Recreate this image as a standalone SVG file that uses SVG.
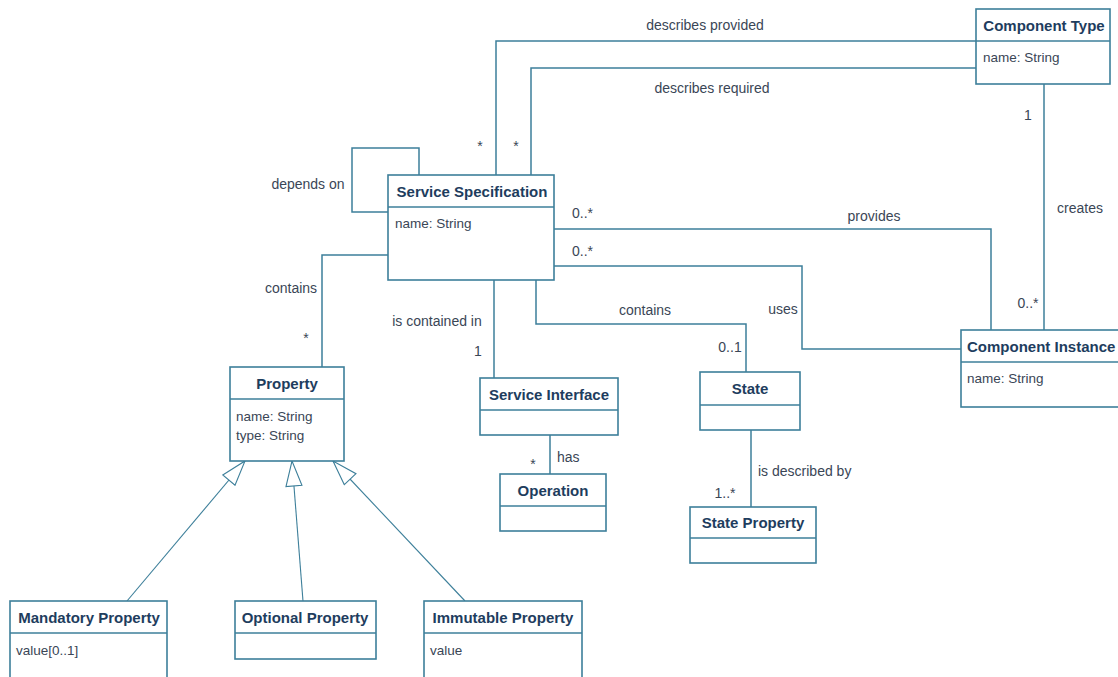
<svg xmlns="http://www.w3.org/2000/svg" width="1118" height="677" viewBox="0 0 1118 677">
<defs>
<style>
.box{fill:#fff;stroke:#3d7f9a;stroke-width:1.6}
.div{stroke:#3d7f9a;stroke-width:1.4}
.ln{fill:none;stroke:#3d7f9a;stroke-width:1.5}
.gen{fill:none;stroke:#3d7f9a;stroke-width:1.1}
.h{font-family:"Liberation Sans",Arial,sans-serif;font-size:15px;font-weight:bold;fill:#1e3d5e;text-anchor:middle}
.a{font-family:"Liberation Sans",Arial,sans-serif;font-size:13.5px;fill:#3a4656}
.l{font-family:"Liberation Sans",Arial,sans-serif;font-size:14px;fill:#3a4656}
.c{text-anchor:middle}
</style>
<marker id="tri" viewBox="0 0 26 18" refX="26" refY="9" markerWidth="26" markerHeight="18" markerUnits="userSpaceOnUse" orient="auto">
<path d="M1,1 L26,9 L1,17 Z" fill="#fff" stroke="#3d7f9a" stroke-width="1.1"/>
</marker>
</defs>
<rect width="1118" height="677" fill="#fff"/>

<g id="connectors">
<path class="ln" d="M496,175 V41 H976"/>
<path class="ln" d="M531,175 V68 H976"/>
<path class="ln" d="M419,175 V148 H352 V212 H388"/>
<path class="ln" d="M388,255 H322 V367"/>
<path class="ln" d="M554,229 H991 V330"/>
<path class="ln" d="M554,266 H802 V349 H961"/>
<path class="ln" d="M494,280 V378"/>
<path class="ln" d="M536,280 V324 H746 V372"/>
<path class="ln" d="M1044,84 V330"/>
<path class="ln" d="M550,435 V474"/>
<path class="ln" d="M751,430 V507"/>
<path class="gen" d="M127,601 L245,461" marker-end="url(#tri)"/>
<path class="gen" d="M303,601 L292,461" marker-end="url(#tri)"/>
<path class="gen" d="M465,601 L333,461" marker-end="url(#tri)"/>

<text class="l c" x="705" y="30">describes provided</text>
<text class="l c" x="712" y="93">describes required</text>
<text class="l c" x="480" y="151">*</text>
<text class="l c" x="516" y="151">*</text>
<text class="l c" x="308" y="189">depends on</text>
<text class="l" x="572" y="218">0..*</text>
<text class="l" x="572" y="256">0..*</text>
<text class="l c" x="874" y="221">provides</text>
<text class="l c" x="291" y="293">contains</text>
<text class="l c" x="306" y="343">*</text>
<text class="l c" x="437" y="326">is contained in</text>
<text class="l c" x="478" y="356">1</text>
<text class="l c" x="645" y="315">contains</text>
<text class="l c" x="783" y="314">uses</text>
<text class="l c" x="730" y="352">0..1</text>
<text class="l c" x="1080" y="213">creates</text>
<text class="l c" x="1028" y="120">1</text>
<text class="l c" x="1028" y="308">0..*</text>
<text class="l" x="557" y="462">has</text>
<text class="l c" x="533" y="469">*</text>
<text class="l" x="758" y="476">is described by</text>
<text class="l c" x="725" y="498">1..*</text>
</g>

<g id="service-specification">
<rect class="box" x="388" y="175" width="166" height="105"/>
<line class="div" x1="388" y1="207" x2="554" y2="207"/>
<text class="h" x="472" y="197">Service Specification</text>
<text class="a" x="395" y="228">name: String</text>
</g>

<g id="component-type">
<rect class="box" x="976" y="9" width="134" height="75"/>
<line class="div" x1="976" y1="41" x2="1110" y2="41"/>
<text class="h" x="1044" y="31">Component Type</text>
<text class="a" x="983" y="62">name: String</text>
</g>

<g id="component-instance">
<rect class="box" x="961" y="330" width="170" height="77"/>
<line class="div" x1="961" y1="362" x2="1131" y2="362"/>
<text class="h" x="967" y="352" style="text-anchor:start">Component Instance</text>
<text class="a" x="967" y="383">name: String</text>
</g>

<g id="property">
<rect class="box" x="230" y="367" width="114" height="94"/>
<line class="div" x1="230" y1="399" x2="344" y2="399"/>
<text class="h" x="287" y="389">Property</text>
<text class="a" x="236" y="421">name: String</text>
<text class="a" x="236" y="440">type: String</text>
</g>

<g id="service-interface">
<rect class="box" x="480" y="378" width="138" height="57"/>
<line class="div" x1="480" y1="410" x2="618" y2="410"/>
<text class="h" x="549" y="400">Service Interface</text>
</g>

<g id="operation">
<rect class="box" x="500" y="474" width="106" height="57"/>
<line class="div" x1="500" y1="506" x2="606" y2="506"/>
<text class="h" x="553" y="496">Operation</text>
</g>

<g id="state">
<rect class="box" x="700" y="372" width="100" height="58"/>
<line class="div" x1="700" y1="405" x2="800" y2="405"/>
<text class="h" x="750" y="394">State</text>
</g>

<g id="state-property">
<rect class="box" x="690" y="507" width="126" height="56"/>
<line class="div" x1="690" y1="538" x2="816" y2="538"/>
<text class="h" x="753" y="528">State Property</text>
</g>

<g id="mandatory-property">
<rect class="box" x="10" y="601" width="157" height="90"/>
<line class="div" x1="10" y1="633" x2="167" y2="633"/>
<text class="h" x="89" y="623">Mandatory Property</text>
<text class="a" x="16" y="655">value[0..1]</text>
</g>

<g id="optional-property">
<rect class="box" x="235" y="601" width="141" height="58"/>
<line class="div" x1="235" y1="633" x2="376" y2="633"/>
<text class="h" x="305" y="623">Optional Property</text>
</g>

<g id="immutable-property">
<rect class="box" x="424" y="601" width="158" height="90"/>
<line class="div" x1="424" y1="633" x2="582" y2="633"/>
<text class="h" x="503" y="623">Immutable Property</text>
<text class="a" x="430" y="655">value</text>
</g>
</svg>
